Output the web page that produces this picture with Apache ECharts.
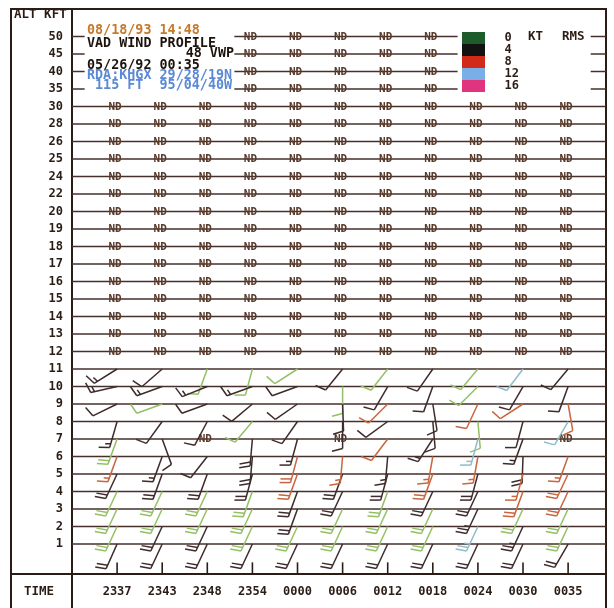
<!DOCTYPE html>
<html>
<head>
<meta charset="utf-8">
<script src="https://cdn.jsdelivr.net/npm/echarts@6/dist/echarts.min.js"></script>
<style>
  html, body { margin: 0; background: #fff; }
  #chart { width: 614px; height: 608px; }
</style>
</head>
<body>
<div id="chart"></div>
<script>
// VAD wind profile (VWP product 48), KHGX 05/26/92 23:37 - 00:35.
// Altitude rows bottom -> top, in kft.
const ALTITUDES = ['1', '2', '3', '4', '5', '6', '7', '8', '9', '10', '11',
  '12', '13', '14', '15', '16', '17', '18', '19', '20', '22', '24', '25', '26', '28', '30',
  '35', '40', '45', '50'];
const TIMES = ['2337', '2343', '2348', '2354', '0000', '0006', '0012', '0018', '0024', '0030', '0035'];

// Winds for levels 1..11 kft (one row per level, one column per time). null = ND.
const WIND_DIR = [
  [204, 205, 205, 205, 205, 205, 205, 205, 205, 205, 210],
  [205, 205, 205, 205, 205, 205, 205, 205, 205, 205, 205],
  [205, 205, 205, 205, 200, 205, 205, 205, 205, 205, 205],
  [205, 205, 205, 200, 200, 205, 200, 205, 205, 200, 205],
  [205, 200, 200, 195, 200, 200, 195, 200, 195, 195, 205],
  [200, 200, 218, 185, 195, 185, 185, 190, 190, 182, 200],
  [200, 160, null, 185, 195, null, 217, 213, 195, 200, null],
  [196, 216, 208, 220, 215, 180, 234, 175, 175, 195, 210],
  [244, 250, 250, 230, 235, 178, 225, 171, 205, 237, 170],
  [257, 250, 248, 250, 250, 180, 210, 200, 225, 210, 200],
  [238, 229, 200, 195, 237, 219, 218, 215, 220, 217, 220],
];
const WIND_SPD = [
  [20, 20, 20, 20, 20, 20, 20, 20, 20, 20, 20],
  [20, 20, 20, 20, 20, 20, 20, 20, 25, 25, 20],
  [20, 20, 20, 20, 20, 20, 20, 20, 25, 20, 20],
  [20, 20, 20, 20, 20, 20, 20, 20, 20, 20, 20],
  [20, 20, 20, 20, 20, 20, 20, 20, 20, 15, 20],
  [15, 15, 10, 20, 20, 15, 15, 15, 15, 20, 15],
  [20, 10, null, 20, 15, null, 10, 15, 15, 15, null],
  [15, 10, 10, 10, 10, 10, 10, 10, 10, 10, 10],
  [10, 10, 10, 10, 10, 10, 10, 10, 10, 10, 10],
  [15, 15, 15, 15, 10, 10, 10, 10, 10, 10, 10],
  [15, 10, 10, 10, 10, 10, 10, 10, 10, 10, 10],
];
// RMS class per barb: 0 = 0-4 kt, 1 = 4-8, 2 = 8-12, 3 = 12-16, 4 = 16+
const WIND_RMS = [
  [1, 1, 1, 1, 1, 1, 1, 1, 1, 1, 1],
  [0, 1, 1, 0, 0, 0, 0, 0, 3, 1, 0],
  [0, 0, 0, 0, 1, 0, 0, 0, 1, 0, 0],
  [0, 0, 0, 0, 1, 1, 0, 1, 1, 2, 2],
  [1, 1, 1, 1, 2, 1, 1, 2, 1, 2, 2],
  [2, 1, 1, 1, 2, 2, 1, 2, 2, 1, 2],
  [0, 1, null, 1, 1, null, 2, 1, 3, 1, null],
  [1, 1, 1, 0, 1, 1, 1, 1, 0, 1, 3],
  [1, 0, 1, 1, 1, 1, 2, 1, 2, 2, 2],
  [1, 1, 1, 1, 1, 0, 1, 1, 0, 1, 1],
  [1, 1, 0, 0, 0, 1, 0, 1, 0, 3, 1],
];
const RMS_CLASSES = ['0', '4', '8', '12', '16'];

// No-data rows: every time for 12-30 kft, only 2354-0018 for 35-50 kft
const ND_ROWS_ALL = ['12', '13', '14', '15', '16', '17', '18', '19', '20', '22', '24', '25', '26', '28', '30'];
const ND_ROWS_TOP = ['35', '40', '45', '50'];
const ND_TIMES_TOP = ['2354', '0000', '0006', '0012', '0018'];

// ---- styling / layout (not data) ----
const INK = '#2b1d16';
const LINE = '#45302c';
const ND_INK = '#5a3b2b';
const BARB_COLORS = ['#93c064', '#3e2b2b', '#c9653f', '#8dbccb', '#d94a86'];
const LEGEND_COLORS = ['#1d5b2b', '#121212', '#d22a18', '#7aaee6', '#e0357e'];
const MONO = '"DejaVu Sans Mono", "Liberation Mono", monospace';
const X_MAX = 10.84;
// row-line pieces (axis x units) for the 35-50 kft rows, which share space with the header text
const TOP_ROW_PIECES = [[-1, -0.72], [2.6, 7.55], [10.5, X_MAX]];
const STAFF = 27, BARB = 11, BARB_STEP = 3.8;

const rowIdx = (alt) => ALTITUDES.indexOf(alt);
const timeIdx = (t) => TIMES.indexOf(t);

// assemble series data
const barbData = RMS_CLASSES.map(() => []);
const ndData = [];
WIND_DIR.forEach((row, lvl) => {
  row.forEach((dir, c) => {
    const y = rowIdx(String(lvl + 1));
    if (dir == null) { ndData.push([c, y]); return; }
    barbData[WIND_RMS[lvl][c]].push([c, y, dir, WIND_SPD[lvl][c]]);
  });
});
ND_ROWS_ALL.forEach((alt) => TIMES.forEach((t, c) => ndData.push([c, rowIdx(alt)])));
ND_ROWS_TOP.forEach((alt) => ND_TIMES_TOP.forEach((t) => ndData.push([timeIdx(t), rowIdx(alt)])));
const rowData = ALTITUDES.map((a, i) => [i]);
const tickData = TIMES.map((t, i) => [i]);

function renderRow(params, api) {
  const idx = api.value(0);
  const pieces = ND_ROWS_TOP.includes(ALTITUDES[idx]) ? TOP_ROW_PIECES : [[-1, X_MAX]];
  return {
    type: 'group',
    children: pieces.map(([a, b]) => {
      const p1 = api.coord([a, idx]), p2 = api.coord([b, idx]);
      return { type: 'line', shape: { x1: p1[0], y1: p1[1], x2: p2[0], y2: p2[1] },
        style: { stroke: LINE, lineWidth: 1.5 } };
    }),
  };
}

function renderTick(params, api) {
  const c = api.value(0);
  const p1 = api.coord([c, -1.05]), p2 = api.coord([c, -1.72]);
  return { type: 'line', shape: { x1: p1[0], y1: p1[1], x2: p2[0], y2: p2[1] },
    style: { stroke: INK, lineWidth: 1.6 } };
}

function renderND(params, api) {
  const p = api.coord([api.value(0), api.value(1)]);
  return { type: 'text', x: p[0] - 2, y: p[1] + 0.5,
    style: { text: 'ND', fill: ND_INK, font: `bold 11px ${MONO}`, align: 'center', verticalAlign: 'middle' } };
}

// wind barb: staff points toward where the wind blows from, barbs at the far end
function renderBarb(params, api) {
  const p = api.coord([api.value(0), api.value(1)]);
  const dir = api.value(2) * Math.PI / 180;
  let spd = api.value(3);
  const color = api.visual('color');
  const ux = Math.sin(dir), uy = -Math.cos(dir);
  const tx = p[0] + ux * STAFF, ty = p[1] + uy * STAFF;
  const b = dir + 75 * Math.PI / 180;
  const bx = Math.sin(b), by = -Math.cos(b);
  const style = { stroke: color, lineWidth: 1.5 };
  const kids = [{ type: 'line', shape: { x1: p[0], y1: p[1], x2: tx, y2: ty }, style }];
  let k = 0;
  while (spd >= 10) {
    const sx = tx - ux * k * BARB_STEP, sy = ty - uy * k * BARB_STEP;
    kids.push({ type: 'line', shape: { x1: sx, y1: sy, x2: sx + bx * BARB, y2: sy + by * BARB }, style });
    spd -= 10; k++;
  }
  if (spd >= 5) {
    if (k === 0) k = 1;
    const sx = tx - ux * k * BARB_STEP, sy = ty - uy * k * BARB_STEP;
    kids.push({ type: 'line', shape: { x1: sx, y1: sy, x2: sx + bx * BARB / 2, y2: sy + by * BARB / 2 }, style });
  }
  return { type: 'group', children: kids };
}

const headerText = (text, x, y, fill, align, size) => ({
  type: 'text', x, y,
  style: { text, fill, font: `bold ${size || 13.4}px ${MONO}`, align: align || 'left', verticalAlign: 'middle' },
});

const chart = echarts.init(document.getElementById('chart'), null, { renderer: 'canvas' });
chart.setOption({
  animation: false,
  backgroundColor: '#fff',
  grid: { left: 72, right: 8, top: 1.5, bottom: 29 },
  xAxis: {
    type: 'value', min: -1, max: X_MAX, interval: 1,
    axisLine: { show: false }, axisTick: { show: false }, splitLine: { show: false },
    axisLabel: {
      margin: 7, showMaxLabel: false,
      color: INK, fontFamily: MONO, fontWeight: 'bold', fontSize: 12,
      formatter: (v) => TIMES[v] || '',
    },
  },
  yAxis: {
    type: 'value', min: -2, max: 31, interval: 1,
    axisLine: { show: false }, axisTick: { show: false }, splitLine: { show: false },
    axisLabel: {
      margin: 9, color: INK, fontFamily: MONO, fontWeight: 'bold', fontSize: 12,
      formatter: (v) => ALTITUDES[v] || '',
    },
  },
  legend: {
    orient: 'vertical', left: 462, top: 32, padding: 0,
    itemWidth: 23, itemHeight: 12, itemGap: 0, selectedMode: false,
    textStyle: { color: INK, fontFamily: MONO, fontWeight: 'bold', fontSize: 12, lineHeight: 12 },
    formatter: (name) => '  ' + name,
    data: RMS_CLASSES.map((n, i) => ({ name: n, icon: 'rect', itemStyle: { color: LEGEND_COLORS[i] } })),
  },
  graphic: [
    { type: 'rect', shape: { x: 11, y: 9, width: 595, height: 640 },
      style: { fill: 'none', stroke: INK, lineWidth: 2 } },
    { type: 'line', shape: { x1: 72, y1: 9, x2: 72, y2: 608 }, style: { stroke: INK, lineWidth: 2 } },
    { type: 'line', shape: { x1: 11, y1: 574, x2: 606, y2: 574 }, style: { stroke: INK, lineWidth: 2 } },
    headerText('ALT KFT', 14, 15, INK, 'left', 12.5),
    headerText('TIME', 24, 592, INK, 'left', 12.5),
    headerText('08/18/93 14:48', 87, 31, '#c87a2c'),
    headerText('VAD WIND PROFILE', 87, 44, '#1d130d'),
    headerText('48 VWP', 234, 54, '#1d130d', 'right'),
    headerText('05/26/92 00:35', 87, 66, '#1d130d'),
    headerText('RDA:KHGX 29/28/19N', 87, 76, '#5a8ad6'),
    headerText(' 115 FT  95/04/40W', 87, 86, '#5a8ad6'),
    headerText('KT', 528, 37, INK, 'left', 12.5),
    headerText('RMS', 562, 37, INK, 'left', 12.5),
  ],
  series: [
    { type: 'custom', name: 'rows', data: rowData, renderItem: renderRow, silent: true, z: 1 },
    { type: 'custom', name: 'ticks', data: tickData, renderItem: renderTick, silent: true, z: 1 },
    { type: 'custom', name: 'ND', data: ndData, renderItem: renderND, silent: true, z: 2 },
    ...RMS_CLASSES.map((n, i) => ({
      type: 'custom', name: n, data: barbData[i], renderItem: renderBarb,
      itemStyle: { color: BARB_COLORS[i] }, z: 3,
    })),
  ],
});
</script>
</body>
</html>
